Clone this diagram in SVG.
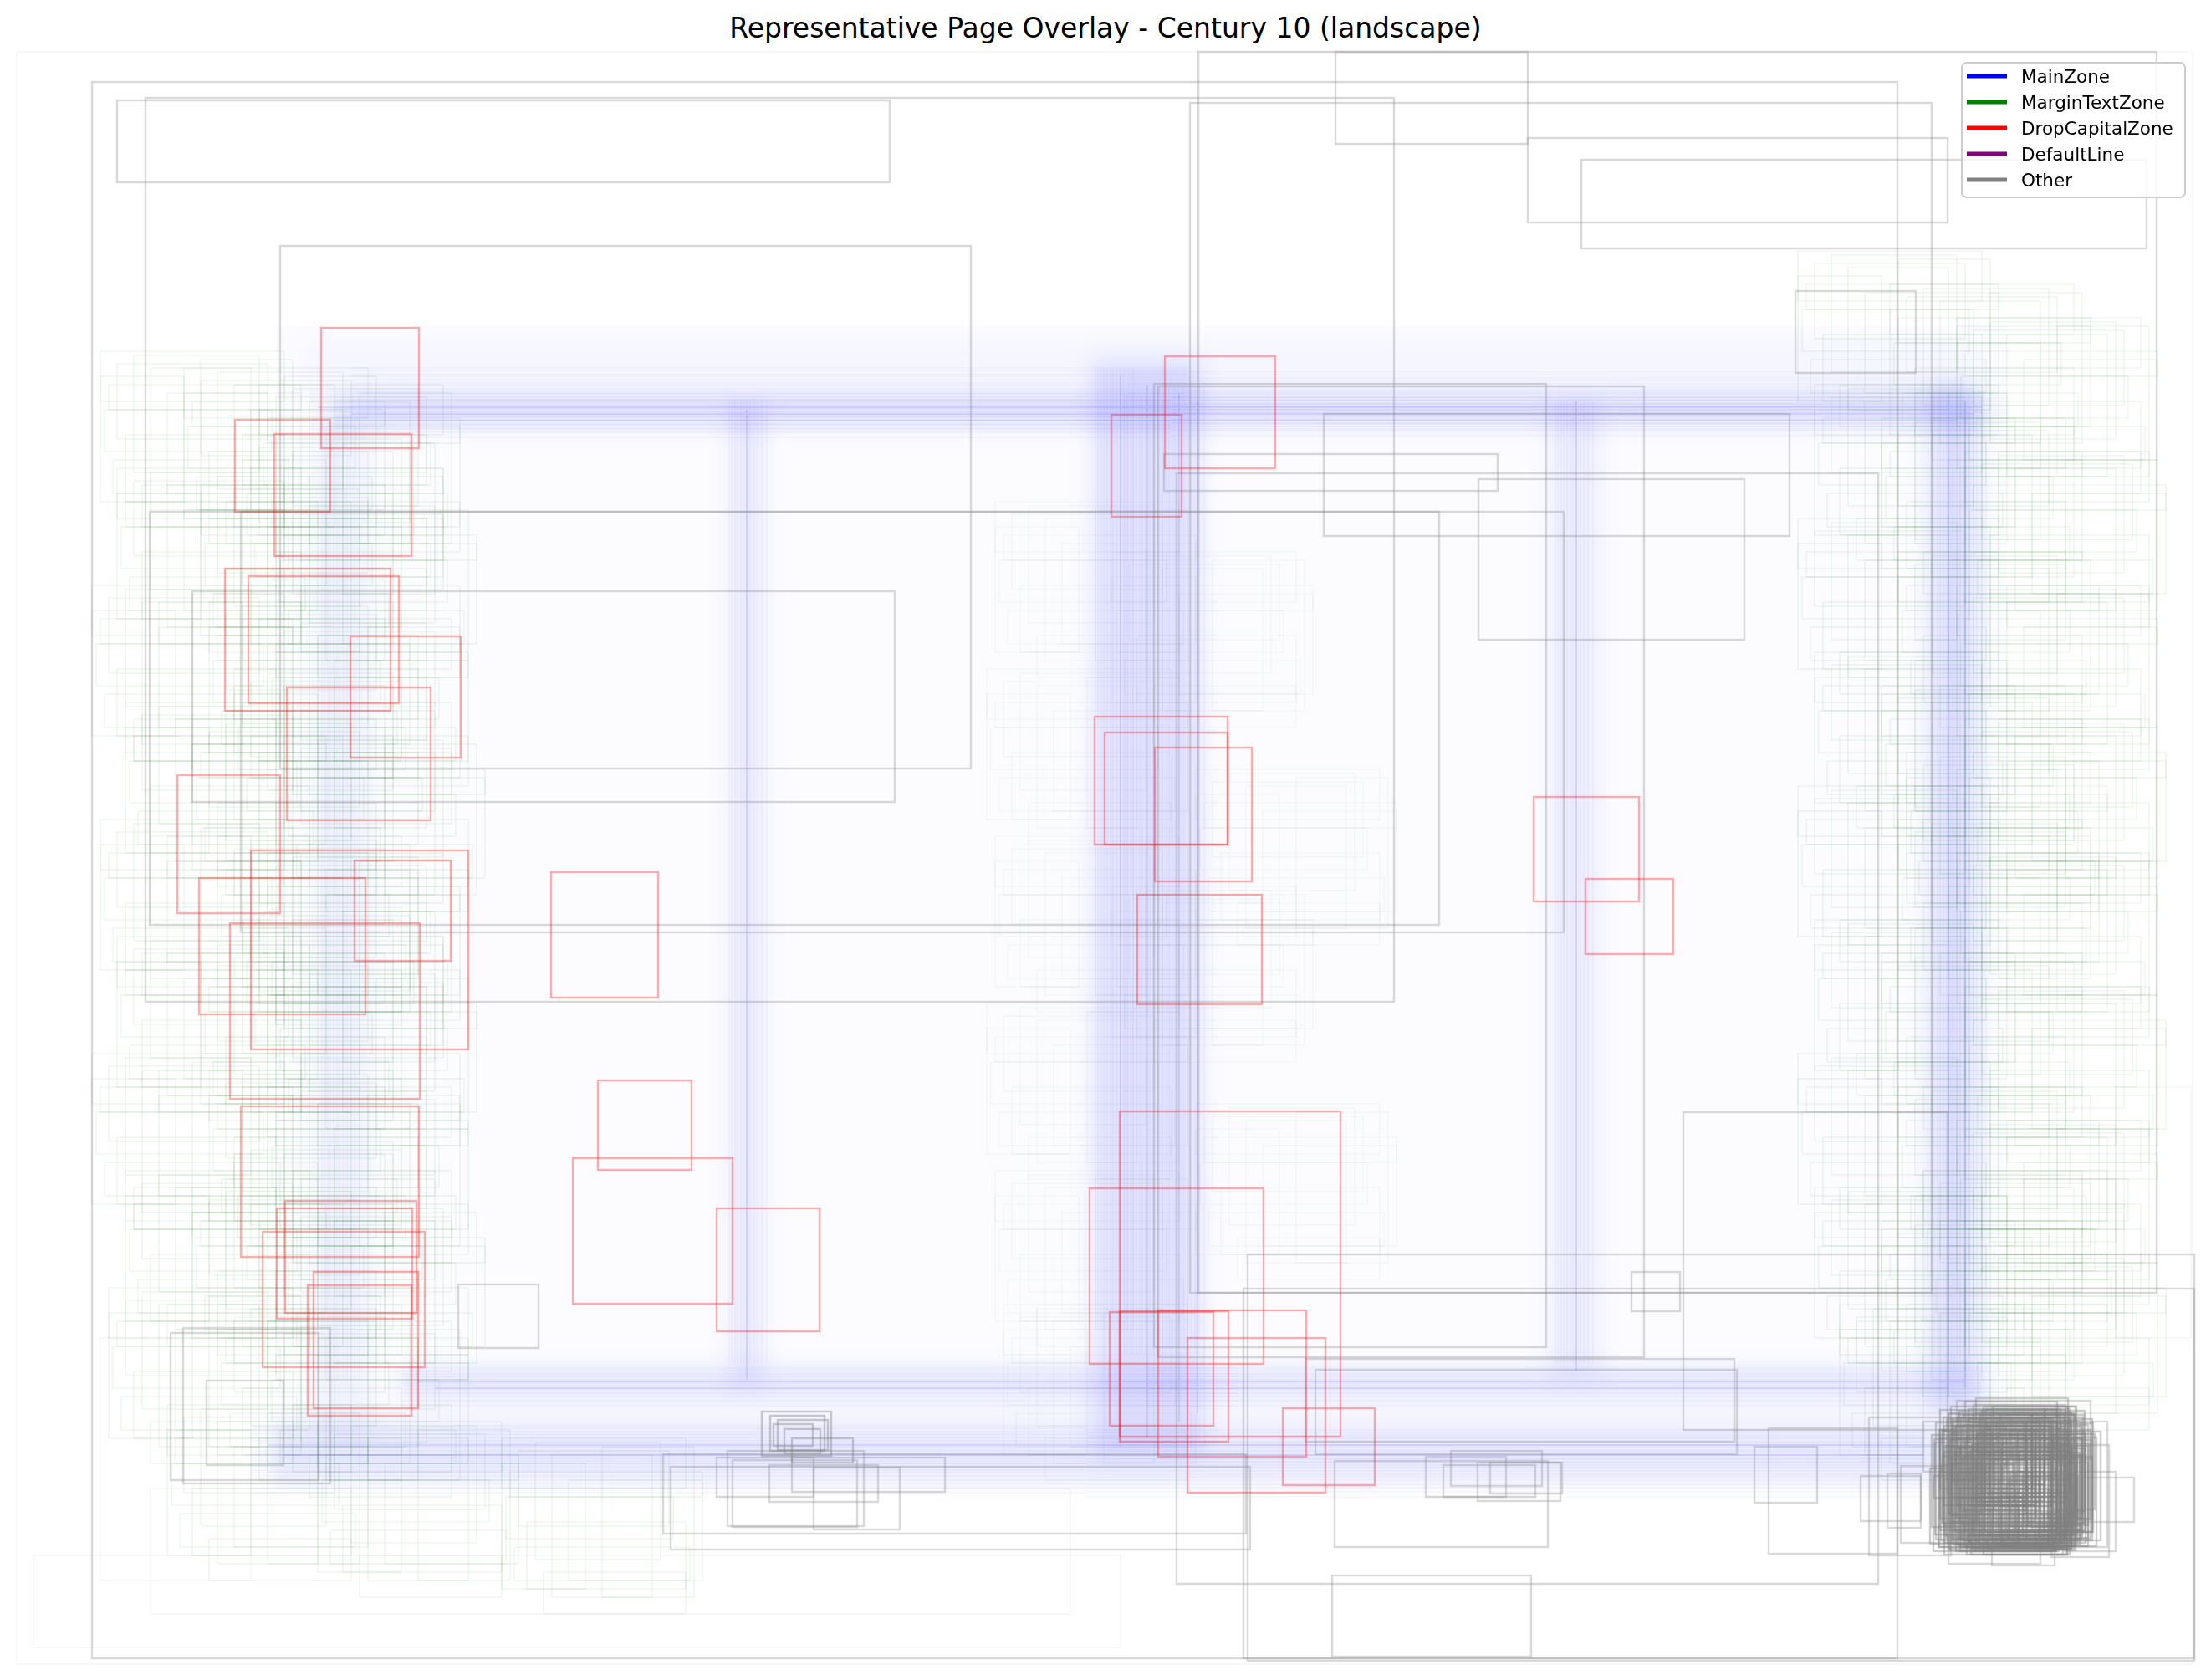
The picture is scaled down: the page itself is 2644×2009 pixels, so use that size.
<svg xmlns="http://www.w3.org/2000/svg" width="2644" height="2009" viewBox="0 0 2644 2009">
<style>
.g{fill:none;stroke:#808080;stroke-opacity:.3;stroke-width:2.4}
.gd{fill:none;stroke:#808080;stroke-opacity:.4;stroke-width:2.4}
.gf{fill:none;stroke:#808080;stroke-opacity:.07;stroke-width:1.5}
.r{fill:none;stroke:#ff0000;stroke-opacity:.32;stroke-width:2.4}
.m{fill:none;stroke:#008000;stroke-opacity:.1;stroke-width:1}
.bt{fill:none;stroke:#0000ff;stroke-opacity:.05;stroke-width:1}
.bc{fill:none;stroke:#0000ff;stroke-opacity:.12;stroke-width:1.5}
.lt{font-family:"DejaVu Sans",Verdana,sans-serif;font-size:21.5px;fill:#000}
</style>
<defs>
<filter id="bl" filterUnits="userSpaceOnUse" x="0" y="0" width="2644" height="2009"><feGaussianBlur stdDeviation="14"/></filter>
<g id="gp">
<rect class="m" x="0" y="0" width="220" height="60"/>
<rect class="m" x="20" y="15" width="180" height="90"/>
<rect class="m" x="40" y="5" width="150" height="140"/>
<rect class="m" x="10" y="40" width="230" height="30"/>
<rect class="m" x="60" y="20" width="120" height="170"/>
<rect class="m" x="5" y="70" width="200" height="50"/>
<rect class="m" x="30" y="100" width="190" height="80"/>
<rect class="m" x="80" y="50" width="160" height="120"/>
<rect class="m" x="15" y="130" width="210" height="40"/>
<rect class="m" x="50" y="160" width="170" height="50"/>
<rect class="m" x="0" y="30" width="100" height="150"/>
<rect class="m" x="120" y="10" width="110" height="180"/>
</g>
<g id="bh">
<path class="bt" d="M0 0H1000M0 3H1000M0 7H1000M0 10H1000M0 14H1000M0 18H1000M0 21H1000M0 25H1000M0 30H1000M0 34H1000M0 39H1000M0 45H1000"/>
</g>
<g id="bv">
<path class="bt" d="M0 0V1150M3 0V1150M7 0V1150M10 0V1150M14 0V1150M18 0V1150M21 0V1150M25 0V1150M30 0V1150M34 0V1150M39 0V1150M45 0V1150"/>
</g>
<g id="gc">
<rect class="gd" x="2330" y="1690" width="150" height="130"/>
<rect class="gd" x="2345" y="1700" width="120" height="150"/>
<rect class="gd" x="2320" y="1720" width="170" height="110"/>
<rect class="gd" x="2360" y="1680" width="110" height="160"/>
<rect class="gd" x="2335" y="1740" width="140" height="100"/>
<rect class="gd" x="2370" y="1710" width="130" height="130"/>
<rect class="gd" x="2340" y="1695" width="150" height="120"/>
<rect class="gd" x="2355" y="1735" width="120" height="110"/>
<rect class="gd" x="2325" y="1705" width="125" height="140"/>
<rect class="gd" x="2380" y="1690" width="90" height="150"/>
<rect class="gd" x="2318" y="1760" width="150" height="90"/>
<rect class="gd" x="2350" y="1725" width="115" height="125"/>
<rect class="gd" x="2390" y="1740" width="100" height="100"/>
<rect class="gd" x="2365" y="1700" width="95" height="150"/>
<rect class="gd" x="2400" y="1720" width="70" height="120"/>
</g>
<g id="gc2">
<rect class="gd" x="2330" y="1700" width="60" height="50"/>
<rect class="gd" x="2350" y="1720" width="80" height="60"/>
<rect class="gd" x="2380" y="1705" width="50" height="90"/>
<rect class="gd" x="2400" y="1740" width="60" height="50"/>
<rect class="gd" x="2340" y="1760" width="90" height="40"/>
<rect class="gd" x="2420" y="1700" width="40" height="120"/>
<rect class="gd" x="2360" y="1690" width="70" height="100"/>
<rect class="gd" x="2390" y="1770" width="80" height="60"/>
<rect class="gd" x="2330" y="1730" width="40" height="80"/>
<rect class="gd" x="2440" y="1720" width="50" height="90"/>
<rect class="gd" x="2370" y="1740" width="45" height="45"/>
<rect class="gd" x="2410" y="1760" width="35" height="70"/>
<rect class="gd" x="2350" y="1780" width="60" height="50"/>
<rect class="gd" x="2430" y="1690" width="30" height="140"/>
<rect class="gd" x="2320" y="1710" width="110" height="70"/>
<rect class="gd" x="2365" y="1725" width="95" height="65"/>
</g>
</defs>
<rect width="2644" height="2009" fill="#fff"/>
<text x="1322" y="45" text-anchor="middle" font-family="DejaVu Sans, Verdana, sans-serif" font-size="33">Representative Page Overlay - Century 10 (landscape)</text>

<g id="faint">
<rect class="gf" x="20" y="62" width="2602" height="1928"/>
<rect class="gf" x="40" y="1860" width="1300" height="110"/>
<rect class="gf" x="180" y="1780" width="1100" height="150"/>
<rect class="gf" x="120" y="1600" width="180" height="290"/>
<rect class="gf" x="2530" y="1300" width="90" height="300"/>
</g>

<g id="mainzone">
<rect x="330" y="390" width="2070" height="1390" fill="#0000ff" fill-opacity="0.012"/>
<g filter="url(#bl)" fill="none" stroke="#0000ff">
<rect x="360" y="400" width="2010" height="80" fill="#0000ff" fill-opacity="0.025" stroke="none"/>
<path d="M400 492H2370" stroke-width="34" stroke-opacity="0.1"/>
<path d="M893 480V1660" stroke-width="40" stroke-opacity="0.07"/>
<path d="M410 500V1720" stroke-width="70" stroke-opacity="0.04"/>
<path d="M1372 430V1740" stroke-width="130" stroke-opacity="0.1"/>
<path d="M1883 480V1650" stroke-width="60" stroke-opacity="0.06"/>
<path d="M2336 460V1690" stroke-width="60" stroke-opacity="0.1"/>
<path d="M480 1655H2370" stroke-width="40" stroke-opacity="0.08"/>
<path d="M320 1735H2340" stroke-width="70" stroke-opacity="0.07"/>
</g>
<g id="bluelines">
<use href="#bh" x="370" y="468"/>
<use href="#bh" x="1370" y="468"/>
<use href="#bh" x="420" y="440"/>
<use href="#bh" x="1350" y="445"/>
<use href="#bh" x="400" y="478"/>
<use href="#bh" x="1400" y="476"/>
<use href="#bh" x="480" y="1636"/>
<use href="#bh" x="1370" y="1636"/>
<use href="#bh" x="300" y="1705"/>
<use href="#bh" x="1300" y="1710"/>
<use href="#bh" x="300" y="1740"/>
<use href="#bh" x="1300" y="1745"/>
<use href="#bv" x="872" y="480"/>
<use href="#bv" x="1310" y="440"/>
<use href="#bv" x="1345" y="470"/>
<use href="#bv" x="1395" y="460"/>
<use href="#bv" x="1860" y="480"/>
<use href="#bv" x="2310" y="470"/>
<use href="#bv" x="2330" y="490"/>
<use href="#bv" x="385" y="500"/>
<path class="bc" d="M380 487H2370M420 495H2360M400 503H2340M500 1652H2350M520 1660H2330M320 1728H2330M340 1740H2300M893 490V1650M1340 450V1730M1372 460V1720M1410 470V1700M1432 480V1690M1885 480V1640M2330 470V1670M2350 480V1660"/>
</g>
</g>

<g id="margintext">
<use href="#gp" x="120" y="420"/><use href="#gp" x="220" y="440"/><use href="#gp" x="310" y="460"/>
<use href="#gp" x="140" y="560"/><use href="#gp" x="240" y="580"/><use href="#gp" x="330" y="600"/>
<use href="#gp" x="110" y="700"/><use href="#gp" x="250" y="720"/><use href="#gp" x="320" y="740"/>
<use href="#gp" x="150" y="840"/><use href="#gp" x="230" y="860"/><use href="#gp" x="340" y="880"/>
<use href="#gp" x="120" y="980"/><use href="#gp" x="260" y="1000"/><use href="#gp" x="310" y="1020"/>
<use href="#gp" x="140" y="1120"/><use href="#gp" x="240" y="1140"/><use href="#gp" x="330" y="1160"/>
<use href="#gp" x="110" y="1260"/><use href="#gp" x="250" y="1280"/><use href="#gp" x="320" y="1300"/>
<use href="#gp" x="150" y="1400"/><use href="#gp" x="230" y="1420"/><use href="#gp" x="340" y="1440"/>
<use href="#gp" x="130" y="1540"/><use href="#gp" x="260" y="1560"/><use href="#gp" x="320" y="1580"/>
<use href="#gp" x="200" y="1680"/><use href="#gp" x="380" y="1700"/><use href="#gp" x="600" y="1720"/>
<use href="#gp" x="290" y="520"/><use href="#gp" x="280" y="800"/><use href="#gp" x="290" y="1080"/><use href="#gp" x="280" y="1360"/>
<g opacity="0.6">
<use href="#gp" x="1190" y="600"/><use href="#gp" x="1330" y="660"/>
<use href="#gp" x="1180" y="800"/><use href="#gp" x="1430" y="920"/>
<use href="#gp" x="1190" y="1000"/><use href="#gp" x="1330" y="1060"/>
<use href="#gp" x="1180" y="1200"/><use href="#gp" x="1430" y="1320"/>
<use href="#gp" x="1190" y="1400"/><use href="#gp" x="1200" y="1560"/>
</g>
<use href="#gp" x="2150" y="300"/><use href="#gp" x="2260" y="340"/><use href="#gp" x="2340" y="380"/>
<use href="#gp" x="2170" y="460"/><use href="#gp" x="2250" y="500"/><use href="#gp" x="2350" y="540"/>
<use href="#gp" x="2150" y="620"/><use href="#gp" x="2270" y="660"/><use href="#gp" x="2340" y="700"/>
<use href="#gp" x="2170" y="780"/><use href="#gp" x="2250" y="820"/><use href="#gp" x="2350" y="860"/>
<use href="#gp" x="2150" y="940"/><use href="#gp" x="2270" y="980"/><use href="#gp" x="2340" y="1020"/>
<use href="#gp" x="2170" y="1100"/><use href="#gp" x="2250" y="1140"/><use href="#gp" x="2350" y="1180"/>
<use href="#gp" x="2150" y="1260"/><use href="#gp" x="2270" y="1300"/><use href="#gp" x="2340" y="1340"/>
<use href="#gp" x="2170" y="1420"/><use href="#gp" x="2250" y="1460"/><use href="#gp" x="2350" y="1500"/>
<use href="#gp" x="2200" y="1560"/><use href="#gp" x="2300" y="1400"/><use href="#gp" x="2280" y="900"/>
</g>

<g id="other">
<rect class="g" x="110" y="98" width="2159" height="1885"/>
<rect class="g" x="140" y="120" width="924" height="98"/>
<rect class="g" x="174" y="117" width="1493" height="1081"/>
<rect class="g" x="335" y="294" width="826" height="625"/>
<rect class="g" x="179" y="612" width="1542" height="494"/>
<rect class="g" x="230" y="707" width="840" height="252"/>
<rect class="g" x="288" y="612" width="1582" height="503"/>
<rect class="g" x="1433" y="62" width="1146" height="1484"/>
<rect class="g" x="1423" y="123" width="887" height="1423"/>
<rect class="g" x="1597" y="62" width="230" height="110"/>
<rect class="g" x="1827" y="165" width="502" height="101"/>
<rect class="g" x="1891" y="191" width="676" height="106"/>
<rect class="g" x="2147" y="348" width="144" height="98"/>
<rect class="g" x="1380" y="459" width="469" height="1152"/>
<rect class="g" x="1385" y="462" width="581" height="1161"/>
<rect class="g" x="1583" y="495" width="557" height="146"/>
<rect class="g" x="1392" y="543" width="399" height="44"/>
<rect class="g" x="1768" y="573" width="318" height="192"/>
<rect class="g" x="1407" y="566" width="839" height="1328"/>
<rect class="g" x="2013" y="1330" width="316" height="380"/>
<rect class="g" x="1492" y="1500" width="1132" height="486"/>
<rect class="g" x="1487" y="1541" width="1137" height="442"/>
<rect class="g" x="548" y="1536" width="96" height="76"/>
<rect class="g" x="204" y="1594" width="177" height="176"/>
<rect class="g" x="219" y="1588" width="176" height="186"/>
<rect class="g" x="247" y="1651" width="92" height="101"/>
<rect class="g" x="793" y="1739" width="697" height="95"/>
<rect class="g" x="802" y="1754" width="693" height="99"/>
<rect class="g" x="1596" y="1747" width="255" height="103"/>
<rect class="g" x="1593" y="1884" width="238" height="97"/>
<rect class="g" x="2115" y="1708" width="154" height="150"/>
<rect class="g" x="2098" y="1730" width="75" height="67"/>
<rect class="g" x="1573" y="1638" width="504" height="101"/>
<rect class="g" x="1561" y="1625" width="513" height="99"/>
<rect class="g" x="1951" y="1521" width="58" height="47"/>
<rect class="g" x="857" y="1743" width="116" height="47"/>
<rect class="g" x="870" y="1735" width="163" height="90"/>
<rect class="g" x="876" y="1746" width="149" height="80"/>
<rect class="g" x="920" y="1752" width="130" height="44"/>
<rect class="g" x="973" y="1755" width="103" height="74"/>
<rect class="g" x="947" y="1743" width="183" height="41"/>
<rect class="gd" x="911" y="1688" width="83" height="53"/>
<rect class="gd" x="921" y="1693" width="65" height="42"/>
<rect class="gd" x="925" y="1703" width="47" height="26"/>
<rect class="gd" x="938" y="1709" width="43" height="29"/>
<rect class="gd" x="947" y="1720" width="73" height="29"/>
<rect class="gd" x="930" y="1698" width="60" height="36"/>
<rect class="g" x="1705" y="1742" width="96" height="48"/>
<rect class="g" x="1726" y="1752" width="110" height="38"/>
<rect class="g" x="1735" y="1735" width="109" height="42"/>
<rect class="g" x="1767" y="1749" width="99" height="46"/>
<rect class="g" x="1782" y="1749" width="86" height="37"/>
<use href="#gc"/>
<use href="#gc" x="7" y="9"/>
<use href="#gc" x="-6" y="5"/>
<use href="#gc" x="3" y="-8"/>
<use href="#gc" x="12" y="2"/>
<use href="#gc" x="-10" y="-4"/>
<use href="#gc2"/>
<use href="#gc2" x="9" y="6"/>
<use href="#gc2" x="-7" y="11"/>
<use href="#gc2" x="15" y="-5"/>
<use href="#gc2" x="4" y="20"/>
<rect class="g" x="2235" y="1695" width="98" height="165"/>
<rect class="g" x="2273" y="1753" width="60" height="92"/>
<rect class="g" x="2225" y="1765" width="72" height="54"/>
<rect class="g" x="2257" y="1762" width="40" height="65"/>
<rect class="g" x="2453" y="1728" width="69" height="134"/>
<rect class="g" x="2490" y="1767" width="62" height="53"/>
<rect class="g" x="2382" y="1838" width="75" height="34"/>
<rect class="g" x="2330" y="1790" width="110" height="80"/>
<rect class="g" x="2410" y="1700" width="110" height="150"/>
<rect class="g" x="2470" y="1760" width="60" height="95"/>
<rect class="g" x="2300" y="1700" width="75" height="60"/>
<rect class="g" x="2340" y="1675" width="160" height="70"/>
</g>

<g id="dropcapital">
<rect class="r" x="384" y="392" width="117" height="144"/>
<rect class="r" x="281" y="502" width="114" height="110"/>
<rect class="r" x="328" y="519" width="164" height="146"/>
<rect class="r" x="269" y="680" width="198" height="170"/>
<rect class="r" x="297" y="689" width="180" height="152"/>
<rect class="r" x="419" y="761" width="132" height="145"/>
<rect class="r" x="343" y="822" width="172" height="159"/>
<rect class="r" x="212" y="927" width="123" height="165"/>
<rect class="r" x="300" y="1017" width="260" height="238"/>
<rect class="r" x="424" y="1029" width="115" height="120"/>
<rect class="r" x="238" y="1050" width="199" height="163"/>
<rect class="r" x="275" y="1104" width="227" height="210"/>
<rect class="r" x="659" y="1043" width="128" height="150"/>
<rect class="r" x="288" y="1323" width="213" height="180"/>
<rect class="r" x="715" y="1292" width="112" height="107"/>
<rect class="r" x="685" y="1385" width="191" height="174"/>
<rect class="r" x="857" y="1445" width="123" height="147"/>
<rect class="r" x="341" y="1436" width="157" height="134"/>
<rect class="r" x="331" y="1445" width="162" height="132"/>
<rect class="r" x="314" y="1473" width="194" height="162"/>
<rect class="r" x="375" y="1521" width="125" height="163"/>
<rect class="r" x="368" y="1537" width="124" height="156"/>
<rect class="r" x="1309" y="857" width="159" height="153"/>
<rect class="r" x="1321" y="876" width="147" height="134"/>
<rect class="r" x="1381" y="894" width="116" height="160"/>
<rect class="r" x="1360" y="1070" width="149" height="131"/>
<rect class="r" x="1834" y="953" width="126" height="125"/>
<rect class="r" x="1896" y="1051" width="105" height="90"/>
<rect class="r" x="1339" y="1329" width="264" height="389"/>
<rect class="r" x="1303" y="1421" width="208" height="210"/>
<rect class="r" x="1327" y="1569" width="124" height="136"/>
<rect class="r" x="1339" y="1568" width="130" height="156"/>
<rect class="r" x="1385" y="1567" width="177" height="175"/>
<rect class="r" x="1420" y="1600" width="165" height="185"/>
<rect class="r" x="1534" y="1684" width="110" height="92"/>
<rect class="r" x="1393" y="426" width="132" height="134"/>
<rect class="r" x="1329" y="496" width="84" height="122"/>
</g>

<g id="legend">
<rect x="2346" y="75" width="267" height="161" rx="6" fill="#fff" fill-opacity="0.8" stroke="#cccccc" stroke-width="2"/>
<path d="M2352 91H2400" stroke="#0000ff" stroke-width="5"/>
<path d="M2352 122H2400" stroke="#008000" stroke-width="5"/>
<path d="M2352 153H2400" stroke="#ff0000" stroke-width="5"/>
<path d="M2352 184H2400" stroke="#800080" stroke-width="5"/>
<path d="M2352 215H2400" stroke="#808080" stroke-width="5"/>
<text class="lt" x="2417" y="99">MainZone</text>
<text class="lt" x="2417" y="130">MarginTextZone</text>
<text class="lt" x="2417" y="161">DropCapitalZone</text>
<text class="lt" x="2417" y="192">DefaultLine</text>
<text class="lt" x="2417" y="223">Other</text>
</g>
</svg>
